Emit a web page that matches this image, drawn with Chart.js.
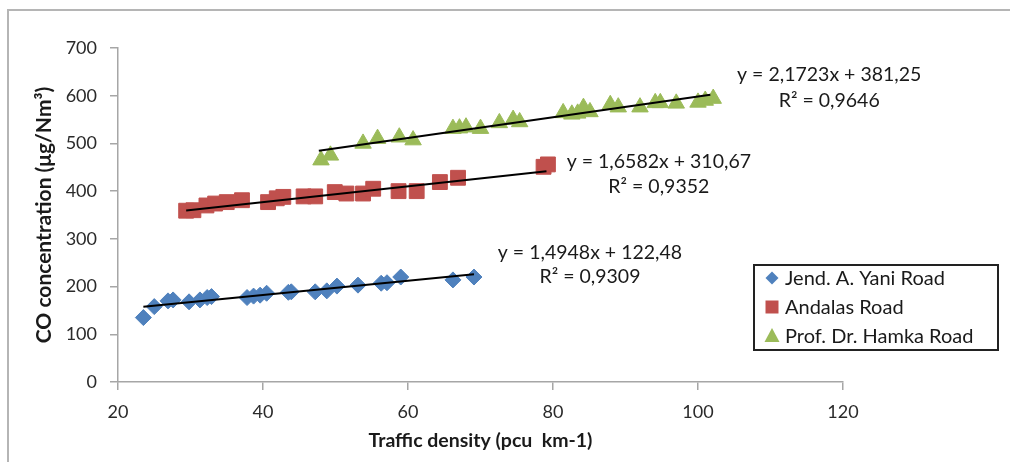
<!DOCTYPE html>
<html><head><meta charset="utf-8">
<script src="https://cdn.jsdelivr.net/npm/chart.js@4.4.0/dist/chart.umd.min.js"></script>
<style>html,body{margin:0;padding:0;background:#fff}</style>
</head><body>
<canvas id="c" width="1010" height="462"></canvas>
<script>
// ---- data ----
const seriesNames = ["Jend. A. Yani Road", "Andalas Road", "Prof. Dr. Hamka Road"];

const yaniX = [23.5, 25.0, 26.9, 27.6, 29.8, 31.3, 32.3, 32.9, 37.8, 38.7, 39.6, 40.5, 43.5, 43.9, 47.2, 48.8, 50.2, 53.1, 56.3, 57.1, 59.0, 66.2, 69.1];
const yaniY = [135, 158, 170, 172, 168, 172, 177, 179, 177, 180, 182, 186, 188, 189, 189, 191, 201, 203, 207, 208, 220, 214, 220];

const andalasX = [29.4, 30.4, 32.2, 33.4, 35.0, 37.1, 40.7, 41.9, 42.8, 45.6, 47.2, 49.9, 51.5, 53.8, 55.2, 58.7, 61.2, 64.4, 66.9, 78.7, 79.3];
const andalasY = [359, 360, 370, 374, 377, 381, 377, 385, 388, 389, 389, 398, 395, 395, 405, 400, 400, 419, 428, 451, 456];

const hamkaX = [48.0, 49.3, 53.8, 55.8, 58.8, 60.7, 66.2, 67.1, 68.0, 70.0, 72.6, 74.5, 75.4, 81.4, 82.6, 83.4, 84.2, 85.1, 87.9, 89.0, 92.0, 94.1, 94.8, 97.0, 100.0, 101.0, 102.1];
const hamkaY = [465, 475, 500, 510, 513, 507, 531, 532, 534, 531, 543, 550, 545, 564, 561, 563, 575, 566, 581, 576, 576, 585, 585, 584, 586, 590, 594];

// trend lines: slope, intercept, x range
const trendSlope = [1.4948, 1.6582, 2.1723];
const trendIntercept = [122.48, 310.67, 381.25];
const trendFrom = [23.5, 29.4, 47.7];
const trendTo = [69.1, 79.1, 101.7];
const eqTexts = ["y = 1,4948x + 122,48", "y = 1,6582x + 310,67", "y = 2,1723x + 381,25"];
const r2Texts = ["R² = 0,9309", "R² = 0,9352", "R² = 0,9646"];
// label anchors in data units [x, y]
const eqPos = [[85.1, 271], [94.6, 461], [118.1, 643]];
const r2Pos = [[85.1, 220], [94.6, 409], [118.1, 590]];

const xTicksMin = 20, xTicksMax = 120, xStep = 20;
const yTicksMin = 0, yTicksMax = 700, yStep = 100;

// ---- build ----
const colors = ["#4F81BD", "#C0504D", "#9BBB59"];
const styles = ["rectRot", "rect", "triangle"];
const radii = [8, 10.5, 9.5];
const xs = [yaniX, andalasX, hamkaX];
const ys = [yaniY, andalasY, hamkaY];

const datasets = [];
for (let i = 0; i < 3; i++) {
  datasets.push({
    type: 'scatter',
    label: seriesNames[i],
    data: xs[i].map((x, j) => ({x: x, y: ys[i][j]})),
    backgroundColor: colors[i],
    borderColor: colors[i],
    borderWidth: 1,
    pointStyle: styles[i],
    pointRadius: radii[i],
    pointHoverRadius: radii[i],
    order: 2,
    isSeries: true
  });
}
for (let i = 0; i < 3; i++) {
  datasets.push({
    type: 'line',
    label: 'trend' + i,
    data: [trendFrom[i], trendTo[i]].map(x => ({x: x, y: trendSlope[i] * x + trendIntercept[i]})),
    borderColor: '#000',
    borderWidth: 2,
    pointRadius: 0,
    fill: false,
    order: 0
  });
}

const FONT = 'Lato';

const decor = {
  id: 'decor',
  beforeDraw(chart) {
    const ctx = chart.ctx;
    ctx.save();
    ctx.fillStyle = '#fff';
    ctx.fillRect(0, 0, chart.width, chart.height);
    ctx.strokeStyle = '#b5b5b5';
    ctx.lineWidth = 2;
    ctx.beginPath();
    ctx.moveTo(8, 462);
    ctx.lineTo(8, 10);
    ctx.lineTo(1010, 10);
    ctx.stroke();
    ctx.restore();
  },
  afterDatasetsDraw(chart) {
    const ctx = chart.ctx;
    const xs_ = chart.scales.x, ys_ = chart.scales.y;
    ctx.save();
    ctx.font = '19.5px ' + FONT;
    ctx.fillStyle = '#1a1a1a';
    ctx.textAlign = 'center';
    ctx.textBaseline = 'middle';
    for (let i = 0; i < 3; i++) {
      ctx.fillText(eqTexts[i], xs_.getPixelForValue(eqPos[i][0]), ys_.getPixelForValue(eqPos[i][1]));
      ctx.fillText(r2Texts[i], xs_.getPixelForValue(r2Pos[i][0]), ys_.getPixelForValue(r2Pos[i][1]));
    }
    // legend
    const L = 754, T = 265, W = 244, H = 85;
    ctx.strokeStyle = '#222';
    ctx.lineWidth = 2;
    ctx.strokeRect(L, T, W, H);
    ctx.textAlign = 'left';
    ctx.font = '20px ' + FONT;
    const rows = [278, 307, 336];
    chart.data.datasets.filter(d => d.isSeries).forEach((d, i) => {
      const cx = 772, cy = rows[i];
      ctx.fillStyle = d.backgroundColor;
      ctx.beginPath();
      if (d.pointStyle === 'rectRot') {
        ctx.moveTo(cx, cy - 6.5); ctx.lineTo(cx + 6.5, cy); ctx.lineTo(cx, cy + 6.5); ctx.lineTo(cx - 6.5, cy);
      } else if (d.pointStyle === 'rect') {
        ctx.rect(cx - 6.5, cy - 6.5, 13, 13);
      } else {
        ctx.moveTo(cx, cy - 8); ctx.lineTo(cx + 7.5, cy + 6); ctx.lineTo(cx - 7.5, cy + 6);
      }
      ctx.closePath();
      ctx.fill();
      ctx.fillStyle = '#1a1a1a';
      ctx.fillText(d.label, 785, cy + 1);
    });
    ctx.restore();
  }
};

new Chart(document.getElementById('c'), {
  type: 'scatter',
  data: {datasets: datasets},
  plugins: [decor],
  options: {
    responsive: false,
    animation: false,
    events: [],
    layout: {padding: {left: 0, right: 167, top: 48, bottom: 0}},
    plugins: {legend: {display: false}, tooltip: {enabled: false}},
    scales: {
      x: {
        type: 'linear', min: xTicksMin, max: xTicksMax,
        ticks: {stepSize: xStep, padding: 11, color: '#2a2a2a', font: {family: FONT, size: 18}},
        grid: {drawOnChartArea: false, drawTicks: true, tickLength: 8, color: '#a6a6a6', lineWidth: 1.5},
        border: {display: true, color: '#a6a6a6', width: 1.5},
        title: {display: true, text: 'Traffic density (pcu  km-1)', color: '#1a1a1a', font: {family: FONT, size: 19.5, weight: 'bold'}, padding: {top: 0, bottom: 10}},
        afterFit(s) { s.height = 80; }
      },
      y: {
        type: 'linear', min: yTicksMin, max: yTicksMax,
        ticks: {stepSize: yStep, padding: 13, color: '#2a2a2a', font: {family: FONT, size: 18}},
        grid: {drawOnChartArea: false, drawTicks: true, tickLength: 8, color: '#a6a6a6', lineWidth: 1.5},
        border: {display: true, color: '#a6a6a6', width: 1.5},
        title: {display: true, text: 'CO concentration (μg/Nm³)', color: '#1a1a1a', font: {family: FONT, size: 21, weight: 'bold'}, padding: {top: 32, bottom: 0}},
        afterFit(s) { s.width = 118; }
      }
    }
  }
});
</script>
</body></html>
